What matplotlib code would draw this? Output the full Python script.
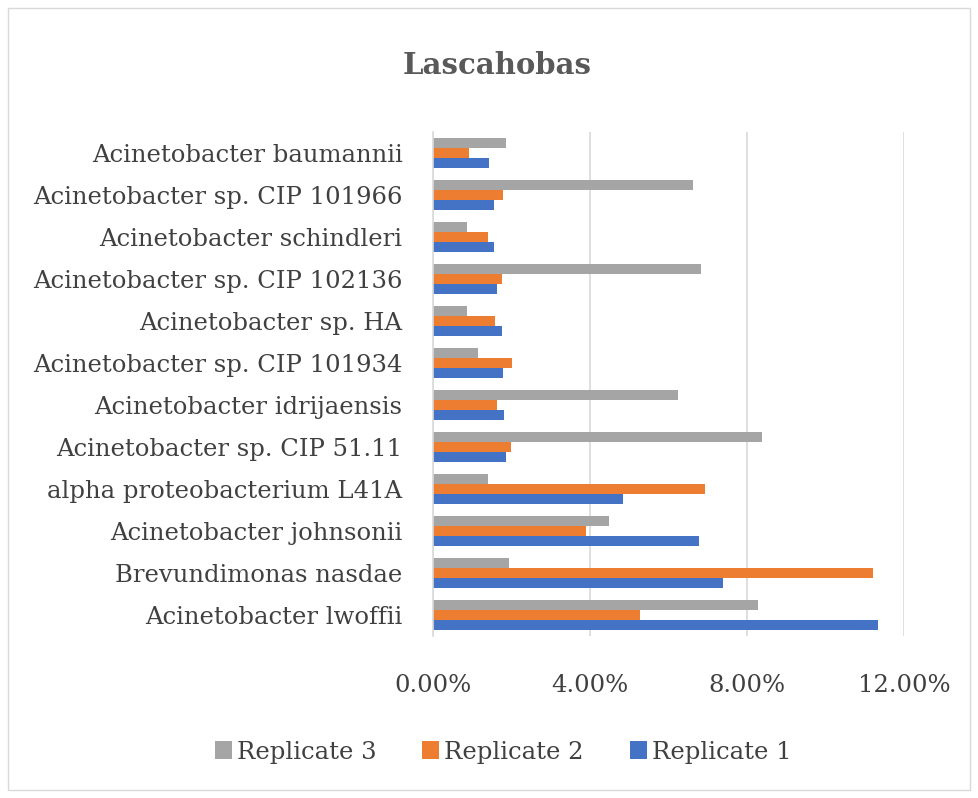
import matplotlib
matplotlib.use("Agg")
import matplotlib.pyplot as plt
import numpy as np
from matplotlib.ticker import FuncFormatter
from matplotlib.patches import Rectangle

categories = [
    "Acinetobacter lwoffii",
    "Brevundimonas nasdae",
    "Acinetobacter johnsonii",
    "alpha proteobacterium L41A",
    "Acinetobacter sp. CIP 51.11",
    "Acinetobacter idrijaensis",
    "Acinetobacter sp. CIP 101934",
    "Acinetobacter sp. HA",
    "Acinetobacter sp. CIP 102136",
    "Acinetobacter schindleri",
    "Acinetobacter sp. CIP 101966",
    "Acinetobacter baumannii",
]
replicate1 = [11.35, 7.39, 6.78, 4.83, 1.85, 1.81, 1.79, 1.76, 1.64, 1.56, 1.55, 1.43]
replicate2 = [5.28, 11.22, 3.91, 6.94, 2.00, 1.64, 2.02, 1.57, 1.76, 1.41, 1.79, 0.92]
replicate3 = [8.28, 1.93, 4.49, 1.40, 8.38, 6.23, 1.15, 0.87, 6.84, 0.87, 6.62, 1.85]
xticks = [0, 4, 8, 12]

plt.rcParams['font.family'] = ['DejaVu Serif']

fig = plt.figure(figsize=(9.79, 7.98), dpi=100)
ax = fig.add_axes([433/979, 1-636/798, (904-433)/979, (636-132)/798])

y = np.arange(len(categories))
h = 0.24
c1, c2, c3 = "#4472C4", "#ED7D31", "#A5A5A5"
ax.barh(y - h, replicate1, height=h, color=c1, label="Replicate 1")
ax.barh(y, replicate2, height=h, color=c2, label="Replicate 2")
ax.barh(y + h, replicate3, height=h, color=c3, label="Replicate 3")

ax.set_xlim(0, 12)
ax.set_ylim(-0.5, len(categories) - 0.5)
ax.set_xticks(xticks)
ax.xaxis.set_major_formatter(FuncFormatter(lambda v, p: f"{v:.2f}%"))
ax.set_yticks(y)
ax.set_yticklabels(categories)
ax.tick_params(axis='both', length=0, labelsize=17.5, colors="#404040")
ax.tick_params(axis='y', pad=22)
ax.tick_params(axis='x', pad=27)
ax.grid(axis='x', color="#D9D9D9", linewidth=1.2)
ax.set_axisbelow(True)
for s in ["top", "right", "bottom"]:
    ax.spines[s].set_visible(False)
ax.spines["left"].set_color("#D9D9D9")
ax.spines["left"].set_linewidth(1.2)

fig.text(497/979, 1-66/798, "Lascahobas", ha="center", va="center",
         fontsize=21, fontweight="bold", color="#595959")

handles, labels = ax.get_legend_handles_labels()
leg = fig.legend(handles[::-1], labels[::-1], loc="center", bbox_to_anchor=(503/979, 1-752/798),
                 ncol=3, frameon=False, fontsize=17.5, handlelength=0.7, handleheight=0.7,
                 handletextpad=0.2, columnspacing=1.9, labelcolor="#404040")

fig.patches.append(Rectangle((8/979, 8/798), (970-8)/979, (790-8)/798, transform=fig.transFigure,
                             fill=False, edgecolor="#D9D9D9", linewidth=1))

fig.savefig("out.png", dpi=100)
